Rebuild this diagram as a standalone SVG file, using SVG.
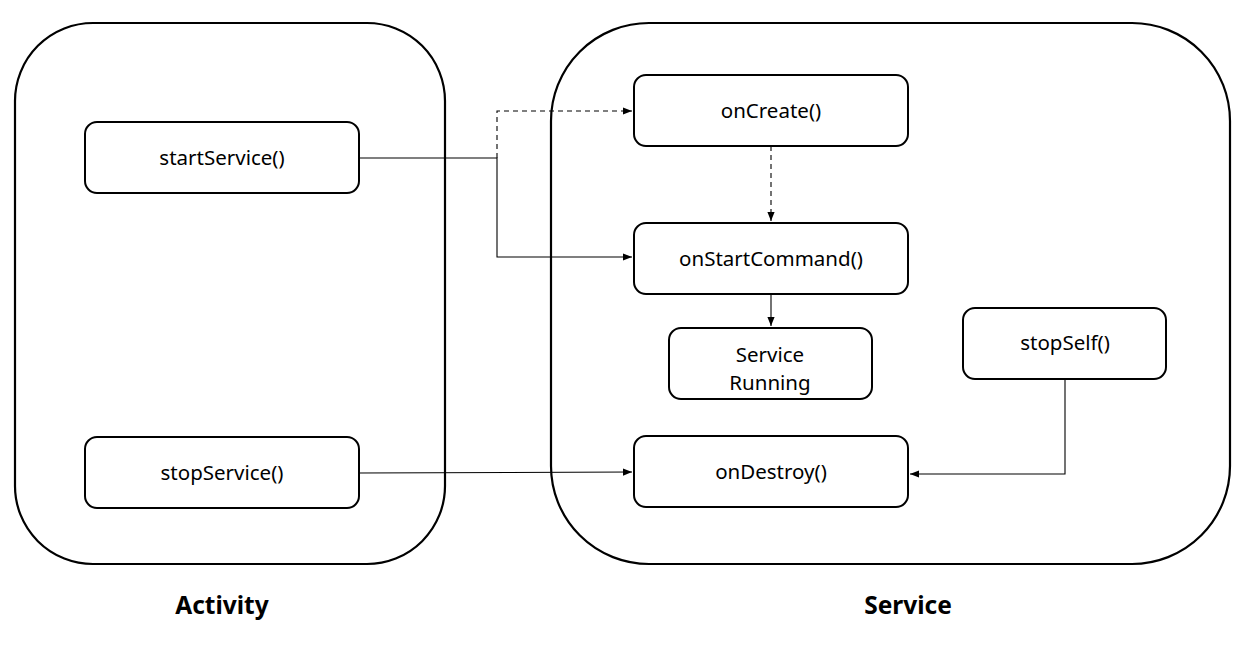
<svg xmlns="http://www.w3.org/2000/svg" width="1244" height="654" viewBox="0 0 1244 654">
<style>
.cont{fill:none;stroke:#000;stroke-width:2.2}
.box{fill:#fff;stroke:#000;stroke-width:2}
.t{font-family:"Noto Sans","DejaVu Sans",sans-serif;font-size:20.5px;fill:#000;text-anchor:middle}
.lbl{font-family:"Noto Sans","DejaVu Sans",sans-serif;font-size:24.5px;font-weight:bold;fill:#000;text-anchor:middle}
.c{fill:none;stroke:#000;stroke-width:1.1}
.d{stroke-dasharray:5,4}
</style>
<defs>
<marker id="ah" viewBox="0 0 10 10" refX="10" refY="5" markerWidth="9" markerHeight="9" markerUnits="userSpaceOnUse" orient="auto">
<path d="M0,1 L10,5 L0,9 z" fill="#000"/>
</marker>
</defs>
<rect width="1244" height="654" fill="#fff"/>
<g id="activity">
<rect class="cont" x="15" y="23" width="430" height="541" rx="78" ry="78"/>
<text class="lbl" x="222" y="614">Activity</text>
</g>
<g id="service">
<rect class="cont" x="551" y="23" width="679" height="541" rx="98" ry="98"/>
<text class="lbl" x="908" y="614">Service</text>
</g>
<g id="connectors">
<path class="c" d="M359,158 H497 V257 H632" marker-end="url(#ah)"/>
<path class="c d" d="M497,158 V111 H632" marker-end="url(#ah)"/>
<path class="c d" d="M771,146 V221" marker-end="url(#ah)"/>
<path class="c" d="M771,294 V326" marker-end="url(#ah)"/>
<path class="c" d="M359,473 L632,472" marker-end="url(#ah)"/>
<path class="c" d="M1065,379 V474 H910" marker-end="url(#ah)"/>
</g>
<g id="startService">
<rect class="box" x="85" y="122" width="274" height="71" rx="12"/>
<text class="t" x="222" y="165">startService()</text>
</g>
<g id="stopService">
<rect class="box" x="85" y="437" width="274" height="71" rx="12"/>
<text class="t" x="222" y="480">stopService()</text>
</g>
<g id="onCreate">
<rect class="box" x="634" y="75" width="274" height="71" rx="12"/>
<text class="t" x="771" y="118">onCreate()</text>
</g>
<g id="onStartCommand">
<rect class="box" x="634" y="223" width="274" height="71" rx="12"/>
<text class="t" x="771" y="266">onStartCommand()</text>
</g>
<g id="serviceRunning">
<rect class="box" x="669" y="328" width="203" height="71" rx="12"/>
<text class="t" x="770" y="362">Service</text>
<text class="t" x="770" y="390">Running</text>
</g>
<g id="stopSelf">
<rect class="box" x="963" y="308" width="203" height="71" rx="12"/>
<text class="t" x="1065" y="350">stopSelf()</text>
</g>
<g id="onDestroy">
<rect class="box" x="634" y="436" width="274" height="71" rx="12"/>
<text class="t" x="771" y="479">onDestroy()</text>
</g>
</svg>
